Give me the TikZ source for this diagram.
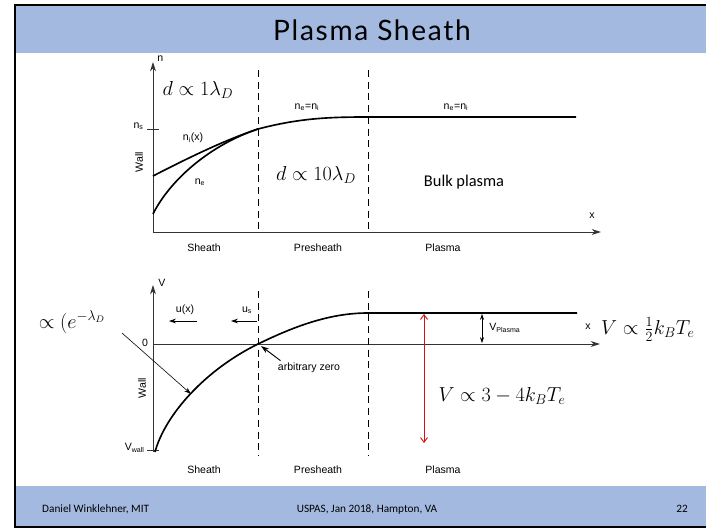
\documentclass[tikz,border=0pt]{standalone}
\usepackage{fontspec}
\usepackage{amsmath}
\usetikzlibrary{arrows.meta}
\newfontfamily\figfont{Liberation Sans}
\newfontfamily\califont{Carlito}
\newfontfamily\titlefont[LetterSpace=6]{Lato}
\definecolor{barblue}{RGB}{163,185,224}
\definecolor{arrred}{RGB}{204,20,20}

\begin{document}
\begin{tikzpicture}[x=0.03cm,y=-0.03cm,>={Stealth[length=8pt,width=5pt]},
  lab/.style={font=\figfont\fontsize{9}{10}\selectfont,inner sep=1pt},
  eqn/.style={font=\fontsize{17}{20}\selectfont,inner sep=0pt},
  foot/.style={font=\califont\fontsize{9.6}{11}\selectfont,inner sep=0pt,anchor=base},
  axisln/.style={line width=0.7pt,black!80},
  curve/.style={line width=1.4pt},
  region/.style={dash pattern=on 6pt off 4pt,line width=0.8pt}]
\useasboundingbox (0,0) rectangle (706,528);
% slide
\fill[white] (15,5) rectangle (720,527);
% ---- density profile ----
\coordinate (o1) at (153,232); \coordinate (ntip) at (153,62); \coordinate (xtip) at (601,232);
\draw[axisln,->] (o1) -- (ntip); \draw[axisln,->] (o1) -- (xtip);
\node[lab,anchor=west] (nlab) at (156,59) {n};
\node[lab] (xlab) at (592,216) {x};
\coordinate (nsL) at (147,129); \coordinate (nsR) at (159,129);
\draw[axisln] (nsL) -- (nsR);
\node[lab,anchor=east] (ns) at (145,126) {n\textsubscript{s}};
\node[lab,rotate=90] (wall1) at (139,162) {Wall};
\foreach \xx/\nm in {258/a,368/b}{
  \coordinate (top\nm) at (\xx,70); \coordinate (bot\nm) at (\xx,232);
  \draw[region] (top\nm) -- (bot\nm);}
\coordinate (nistart) at (153,176); \coordinate (nestart) at (153,214);
\coordinate (meet) at (258,129); \coordinate (flat) at (368,117); \coordinate (nend) at (576,117);
\draw[curve] (nistart) .. controls (190,157) and (225,140) .. (meet);
\draw[curve] (nestart) .. controls (170,180) and (210,145) .. (meet);
\draw[curve] (meet) .. controls (300,118) and (330,117) .. (flat) -- (nend);
\node[lab] (nilab) at (193,138) {n\textsubscript{i}(x)};
\node[lab] (nelab) at (200,182) {n\textsubscript{e}};
\node[lab] (eq1) at (307,107) {n\textsubscript{e}=n\textsubscript{i}};
\node[lab] (eq2) at (456,107) {n\textsubscript{e}=n\textsubscript{i}};
\node[eqn] (dsheath) at (198,90) {$d \propto 1\lambda_D$};
\node[eqn] (dpre) at (316,175) {$d \propto 10\lambda_D$};
\node[font=\califont\fontsize{14}{16}\selectfont] (bulk) at (464,182) {Bulk plasma};
\node[lab] (sh1) at (204,248) {Sheath};
\node[lab] (pre1) at (318,248) {Presheath};
\node[lab] (pl1) at (443,248) {Plasma};
% ---- potential profile ----
\coordinate (o2) at (153,452); \coordinate (vtip) at (153,285);
\coordinate (z0) at (153,344); \coordinate (ztip) at (600,344);
\draw[axisln,->] (o2) -- (vtip); \draw[axisln,->] (z0) -- (ztip);
\node[lab,anchor=west] (vlab) at (157,283) {V};
\node[lab] (zerolab) at (145,343) {0};
\node[lab,inner sep=0pt] (xlab2) at (588,327) {x};
\coordinate (vwL) at (147,450); \coordinate (vwR) at (159,450);
\draw[axisln] (vwL) -- (vwR);
\node[lab,anchor=east] (vwall) at (146,448) {V\textsubscript{wall}};
\node[lab,rotate=90] (wall2) at (142,388) {Wall};
\foreach \xx/\nm in {258/c,368/d}{
  \coordinate (top\nm) at (\xx,291); \coordinate (bot\nm) at (\xx,456);
  \draw[region,line width=0.6pt] (top\nm) -- (bot\nm);}
\coordinate (vstart) at (155,452); \coordinate (vzero) at (258,344);
\coordinate (vflat) at (368,313); \coordinate (vend) at (577,313);
\draw[curve] (vstart) .. controls (165,415) and (205,370) .. (vzero)
  .. controls (295,326) and (330,313) .. (vflat) -- (vend);
\node[lab] (ulab) at (185,310) {u(x)};
\node[lab] (uslab) at (247,310) {u\textsubscript{s}};
\coordinate (u1a) at (197,321); \coordinate (u1b) at (169,321);
\coordinate (u2a) at (257,321); \coordinate (u2b) at (231,321);
\draw[line width=0.6pt,->,>={Stealth[length=6pt,width=4pt]}] (u1a) -- (u1b);
\draw[line width=0.6pt,->,>={Stealth[length=6pt,width=4pt]}] (u2a) -- (u2b);
\node[lab] (arbzero) at (309,368) {arbitrary zero};
\coordinate (arbtip) at (261,346);
\draw[line width=0.8pt,->,>={Stealth[length=7pt,width=4.5pt]}] (arbzero.north west) ++(4,-1) coordinate (arbfrom) -- (arbtip);
\node[eqn] (expeq) at (72,322) {$\propto (e^{-\lambda_D}$};
\coordinate (expfrom) at (122,333); \coordinate (exptip) at (191,394);
\draw[line width=0.5pt,->,>={Stealth[length=6pt,width=4pt]}] (expfrom) -- (exptip);
\coordinate (vp1) at (482,314); \coordinate (vp2) at (482,343);
\draw[line width=0.6pt,<->,>={Stealth[length=5pt,width=3.5pt]}] (vp1) -- (vp2);
\node[lab,anchor=west] (vplasma) at (488,328) {V\textsubscript{Plasma}};
\node[eqn,anchor=west] (halfeq) at (601,329) {$V \propto \tfrac{1}{2} k_B T_e$};
\coordinate (red1) at (424,314); \coordinate (red2) at (424,443);
\draw[arrred,line width=0.8pt,{Straight Barb[length=4pt,width=6pt]}-{Straight Barb[length=4pt,width=6pt]}] (red1) -- (red2);
\node[eqn] (tfour) at (502,396) {$V \propto 3-4k_B T_e$};
\node[lab] (sh2) at (204,470) {Sheath};
\node[lab] (pre2) at (318,470) {Presheath};
\node[lab] (pl2) at (443,470) {Plasma};
% ---- bars and frame ----
\fill[barblue] (15,5) rectangle (720,53);
\fill[barblue] (15,486) rectangle (720,527);
\draw[line width=1.6pt] (720,5) -- (15,5) -- (15,527) -- (720,527);
\node[font=\titlefont\fontsize{24}{28}\selectfont] (title) at (372,30) {Plasma Sheath};
\node[foot,anchor=base west] (author) at (42,512) {Daniel Winklehner, MIT};
\node[foot] (venue) at (367,512) {USPAS, Jan 2018, Hampton, VA};
\node[foot] (page) at (682,512) {22};
\end{tikzpicture}
\end{document}
